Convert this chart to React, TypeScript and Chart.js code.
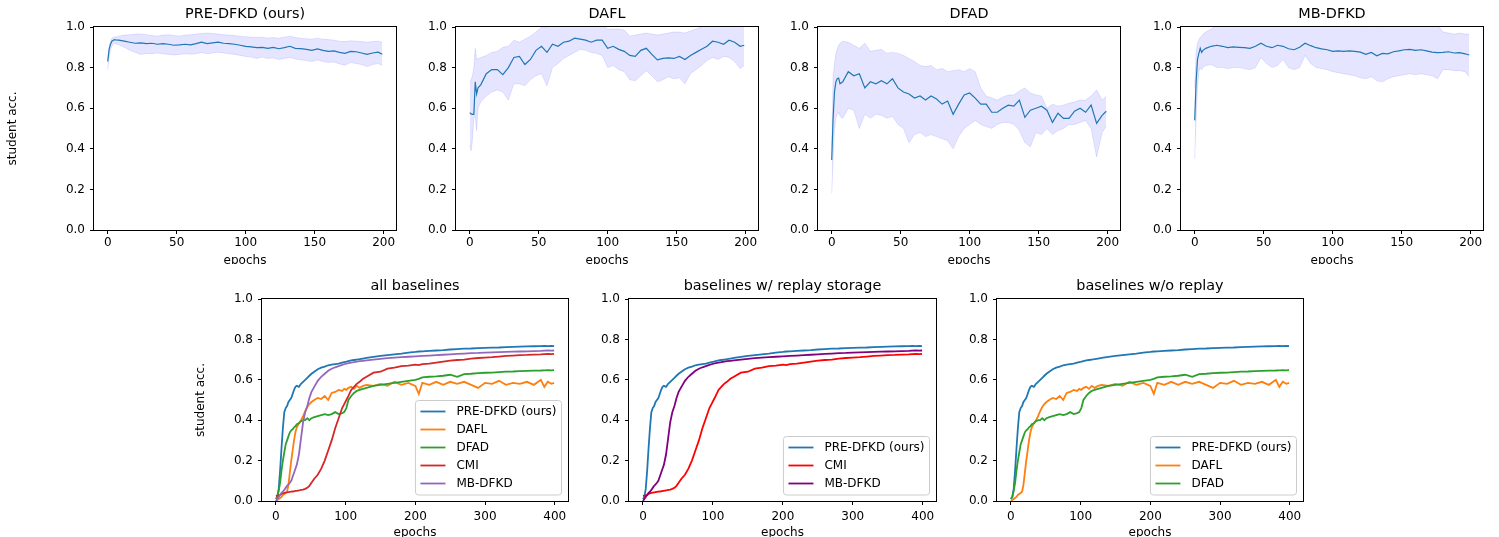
import React, { useEffect, useRef } from "react";
import { Chart, registerables } from "chart.js";

Chart.register(...registerables);

const FONT = "'DejaVu Sans', 'Liberation Sans', sans-serif";
Chart.defaults.font.family = FONT;
Chart.defaults.color = "#000";

// ---------- top row: per-method runs (mean and band) ----------
const TOP_EPOCHS = [0, 1, 2, 3, 4, 5, 6, 8, 12, 16, 20, 24, 28, 32, 36, 40, 44, 48, 52, 56, 60, 64, 68, 72, 76, 80, 84, 88, 92, 96, 100, 104, 108, 112, 116, 120, 124, 128, 132, 136, 140, 144, 148, 152, 156, 160, 164, 168, 172, 176, 180, 184, 188, 192, 196, 199];

const PRE_MEAN = [0.83, 0.89, 0.915, 0.93, 0.935, 0.938, 0.936, 0.935, 0.93, 0.925, 0.92, 0.922, 0.918, 0.92, 0.915, 0.918, 0.915, 0.91, 0.912, 0.915, 0.912, 0.918, 0.925, 0.918, 0.922, 0.925, 0.92, 0.918, 0.915, 0.91, 0.905, 0.902, 0.898, 0.9, 0.895, 0.9, 0.893, 0.898, 0.905, 0.895, 0.893, 0.89, 0.885, 0.892, 0.885, 0.88, 0.882, 0.875, 0.87, 0.88, 0.878, 0.872, 0.865, 0.872, 0.876, 0.866];
const PRE_UPPER = [0.84, 0.9, 0.93, 0.945, 0.95, 0.95, 0.952, 0.955, 0.96, 0.962, 0.965, 0.966, 0.962, 0.958, 0.955, 0.96, 0.962, 0.958, 0.955, 0.96, 0.962, 0.965, 0.968, 0.97, 0.968, 0.965, 0.962, 0.96, 0.958, 0.955, 0.952, 0.95, 0.948, 0.95, 0.945, 0.948, 0.945, 0.95, 0.955, 0.948, 0.945, 0.942, 0.94, 0.945, 0.94, 0.938, 0.935, 0.93, 0.928, 0.932, 0.93, 0.928, 0.925, 0.928, 0.93, 0.925];
const PRE_LOWER = [0.79, 0.85, 0.885, 0.905, 0.915, 0.92, 0.918, 0.912, 0.9, 0.885, 0.875, 0.865, 0.87, 0.868, 0.872, 0.868, 0.865, 0.862, 0.865, 0.868, 0.866, 0.868, 0.875, 0.868, 0.872, 0.876, 0.872, 0.868, 0.865, 0.86, 0.855, 0.852, 0.845, 0.852, 0.845, 0.848, 0.84, 0.845, 0.85, 0.842, 0.838, 0.835, 0.83, 0.838, 0.83, 0.825, 0.828, 0.818, 0.812, 0.825, 0.82, 0.815, 0.805, 0.815, 0.82, 0.81];

const DAFL_MEAN = [0.578, 0.572, 0.57, 0.57, 0.73, 0.67, 0.7, 0.715, 0.77, 0.79, 0.79, 0.765, 0.8, 0.85, 0.855, 0.815, 0.84, 0.885, 0.905, 0.875, 0.915, 0.905, 0.925, 0.93, 0.945, 0.94, 0.935, 0.925, 0.935, 0.935, 0.895, 0.905, 0.89, 0.88, 0.86, 0.855, 0.885, 0.895, 0.865, 0.838, 0.845, 0.848, 0.845, 0.855, 0.84, 0.86, 0.875, 0.89, 0.905, 0.93, 0.925, 0.915, 0.935, 0.925, 0.905, 0.91];
const DAFL_UPPER = [0.73, 0.74, 0.76, 0.8, 0.895, 0.84, 0.845, 0.85, 0.86, 0.875, 0.88, 0.9, 0.905, 0.935, 0.925, 0.94, 0.955, 0.975, 1.0, 1.0, 1.01, 1.02, 1.03, 1.04, 1.04, 1.03, 1.03, 1.02, 1.02, 1.01, 0.99, 0.99, 0.99, 0.985, 0.955, 0.96, 0.965, 0.97, 0.965, 0.96, 0.965, 0.97, 0.975, 0.975, 0.97, 0.98, 0.99, 1.0, 1.01, 1.03, 1.03, 1.02, 1.03, 1.02, 1.01, 1.01];
const DAFL_LOWER = [0.42, 0.39, 0.45, 0.55, 0.56, 0.49, 0.6, 0.63, 0.66, 0.68, 0.69, 0.68, 0.64, 0.72, 0.72, 0.71, 0.74, 0.76, 0.77, 0.71, 0.8, 0.82, 0.845, 0.86, 0.875, 0.89, 0.885, 0.875, 0.87, 0.86, 0.8, 0.81, 0.79, 0.78, 0.74, 0.735, 0.76, 0.785, 0.76, 0.73, 0.74, 0.755, 0.745, 0.75, 0.72, 0.77, 0.79, 0.81, 0.835, 0.85, 0.84, 0.855, 0.85, 0.83, 0.795, 0.81];

const DFAD_MEAN = [0.345, 0.55, 0.68, 0.73, 0.745, 0.748, 0.72, 0.73, 0.78, 0.76, 0.77, 0.7, 0.73, 0.72, 0.735, 0.72, 0.745, 0.7, 0.68, 0.67, 0.65, 0.66, 0.64, 0.66, 0.645, 0.62, 0.635, 0.57, 0.62, 0.665, 0.675, 0.65, 0.62, 0.62, 0.58, 0.58, 0.6, 0.615, 0.61, 0.64, 0.555, 0.59, 0.6, 0.61, 0.59, 0.53, 0.575, 0.55, 0.55, 0.585, 0.6, 0.58, 0.615, 0.525, 0.565, 0.585];
const DFAD_UPPER = [0.4, 0.75, 0.82, 0.87, 0.89, 0.91, 0.92, 0.93, 0.925, 0.91, 0.895, 0.92, 0.88, 0.885, 0.89, 0.87, 0.875, 0.87, 0.86, 0.845, 0.83, 0.81, 0.805, 0.81, 0.79, 0.795, 0.78, 0.785, 0.79, 0.78, 0.795, 0.78, 0.7, 0.66, 0.65, 0.64, 0.655, 0.665, 0.665, 0.685, 0.7, 0.675, 0.665, 0.66, 0.6, 0.62, 0.61, 0.615, 0.625, 0.63, 0.64, 0.64, 0.66, 0.69, 0.64, 0.66];
const DFAD_LOWER = [0.18, 0.35, 0.5, 0.55, 0.57, 0.58, 0.56, 0.55, 0.6, 0.59, 0.5, 0.57, 0.55, 0.57, 0.565, 0.55, 0.56, 0.52, 0.5, 0.43, 0.47, 0.48, 0.46, 0.47, 0.46, 0.45, 0.44, 0.4, 0.46, 0.5, 0.52, 0.54, 0.52, 0.51, 0.5, 0.52, 0.53, 0.53, 0.52, 0.49, 0.43, 0.41, 0.48, 0.47, 0.5, 0.47, 0.49, 0.5, 0.52, 0.52, 0.53, 0.54, 0.5, 0.36, 0.48, 0.51];

const MB_MEAN = [0.54, 0.73, 0.84, 0.87, 0.895, 0.875, 0.885, 0.895, 0.905, 0.91, 0.905, 0.898, 0.902, 0.9, 0.898, 0.895, 0.905, 0.92, 0.905, 0.898, 0.91, 0.905, 0.893, 0.888, 0.9, 0.92, 0.908, 0.898, 0.892, 0.888, 0.88, 0.882, 0.88, 0.882, 0.88, 0.876, 0.865, 0.875, 0.858, 0.87, 0.868, 0.878, 0.882, 0.888, 0.89, 0.885, 0.888, 0.882, 0.876, 0.874, 0.875, 0.878, 0.872, 0.874, 0.868, 0.862];
const MB_UPPER = [0.7, 0.87, 0.92, 0.935, 0.95, 0.955, 0.965, 0.975, 0.99, 1.01, 1.02, 1.02, 1.03, 1.03, 1.02, 1.02, 1.03, 1.04, 1.03, 1.02, 1.03, 1.03, 1.02, 1.02, 1.02, 1.04, 1.03, 1.02, 1.02, 1.01, 1.01, 1.01, 1.01, 1.01, 1.01, 1.01, 1.0, 1.01, 1.0, 1.01, 1.01, 1.02, 1.02, 1.03, 1.03, 1.03, 1.03, 1.02, 1.02, 1.01, 0.975, 0.97, 0.965, 0.97, 0.965, 0.965];
const MB_LOWER = [0.35, 0.55, 0.7, 0.78, 0.8, 0.79, 0.8, 0.81, 0.815, 0.8, 0.8, 0.795, 0.8, 0.8, 0.795, 0.79, 0.8, 0.85, 0.82, 0.8, 0.81, 0.84, 0.8, 0.79, 0.8, 0.86, 0.82, 0.8, 0.795, 0.79, 0.78, 0.775, 0.77, 0.765, 0.76, 0.75, 0.745, 0.755, 0.735, 0.73, 0.745, 0.755, 0.76, 0.765, 0.77, 0.765, 0.77, 0.765, 0.76, 0.745, 0.79, 0.79, 0.785, 0.785, 0.78, 0.755];

// ---------- bottom row: comparison curves ----------
const BOTTOM_EPOCHS = [0, 2, 4, 6, 8, 10, 12, 14, 16, 18, 20, 22, 24, 26, 28, 30, 33, 36, 39, 42, 45, 48, 51, 55, 60, 65, 70, 75, 80, 85, 90, 95, 98, 101, 104, 108, 112, 116, 120, 125, 130, 140, 150, 160, 170, 180, 190, 200, 205, 210, 220, 230, 240, 250, 260, 270, 280, 290, 300, 310, 320, 330, 340, 350, 360, 370, 380, 385, 390, 395, 399];

const B_PRE = [0.01, 0.02, 0.06, 0.15, 0.26, 0.36, 0.44, 0.46, 0.47, 0.49, 0.5, 0.51, 0.53, 0.55, 0.565, 0.57, 0.565, 0.58, 0.59, 0.6, 0.61, 0.62, 0.63, 0.64, 0.652, 0.66, 0.665, 0.672, 0.675, 0.678, 0.68, 0.685, 0.688, 0.69, 0.693, 0.696, 0.698, 0.7, 0.702, 0.705, 0.708, 0.713, 0.718, 0.722, 0.726, 0.73, 0.735, 0.738, 0.74, 0.741, 0.743, 0.745, 0.747, 0.75, 0.752, 0.754, 0.755, 0.757, 0.758, 0.759, 0.76, 0.762, 0.763, 0.764, 0.765, 0.766, 0.767, 0.768, 0.767, 0.768, 0.767];
const B_DAFL = [0, 0.005, 0.01, 0.015, 0.02, 0.03, 0.035, 0.04, 0.046, 0.08, 0.14, 0.2, 0.25, 0.3, 0.34, 0.365, 0.385, 0.4, 0.42, 0.445, 0.465, 0.48, 0.49, 0.5, 0.51, 0.505, 0.52, 0.5, 0.535, 0.54, 0.55, 0.545, 0.555, 0.55, 0.56, 0.565, 0.555, 0.57, 0.56, 0.57, 0.575, 0.57, 0.58, 0.57, 0.59, 0.575, 0.585, 0.57, 0.53, 0.585, 0.575, 0.59, 0.575, 0.59, 0.58, 0.59, 0.575, 0.56, 0.585, 0.58, 0.595, 0.575, 0.585, 0.58, 0.59, 0.575, 0.6, 0.565, 0.59, 0.58, 0.585];
const B_DFAD = [0.01, 0.02, 0.05, 0.09, 0.15, 0.2, 0.24, 0.28, 0.3, 0.32, 0.34, 0.35, 0.355, 0.365, 0.37, 0.38, 0.385, 0.395, 0.4, 0.4, 0.41, 0.4, 0.41, 0.415, 0.42, 0.425, 0.43, 0.425, 0.43, 0.44, 0.43, 0.435, 0.44, 0.46, 0.5, 0.52, 0.535, 0.545, 0.55, 0.555, 0.56, 0.57, 0.575, 0.58, 0.585, 0.59, 0.595, 0.6, 0.605, 0.612, 0.615, 0.617, 0.62, 0.625, 0.615, 0.628, 0.63, 0.633, 0.635, 0.636, 0.638, 0.64, 0.641, 0.643, 0.644, 0.645, 0.646, 0.647, 0.648, 0.647, 0.648];
const B_CMI = [0.025, 0.026, 0.028, 0.03, 0.035, 0.038, 0.04, 0.042, 0.043, 0.044, 0.045, 0.046, 0.047, 0.048, 0.05, 0.05, 0.052, 0.055, 0.056, 0.06, 0.065, 0.075, 0.09, 0.11, 0.13, 0.16, 0.2, 0.25, 0.3, 0.36, 0.41, 0.46, 0.48, 0.5, 0.52, 0.55, 0.565, 0.58, 0.59, 0.605, 0.615, 0.635, 0.64, 0.655, 0.66, 0.668, 0.67, 0.675, 0.673, 0.678, 0.68, 0.685, 0.69, 0.695, 0.698, 0.7, 0.705, 0.708, 0.71, 0.712, 0.715, 0.718, 0.72, 0.722, 0.723, 0.725, 0.726, 0.727, 0.728, 0.727, 0.728];
const B_MB = [0, 0.01, 0.02, 0.03, 0.04, 0.046, 0.055, 0.065, 0.075, 0.082, 0.09, 0.1, 0.12, 0.14, 0.16, 0.18, 0.23, 0.31, 0.39, 0.44, 0.47, 0.51, 0.54, 0.565, 0.595, 0.615, 0.63, 0.645, 0.655, 0.662, 0.668, 0.674, 0.677, 0.68, 0.682, 0.685, 0.687, 0.69, 0.692, 0.694, 0.696, 0.7, 0.704, 0.707, 0.71, 0.712, 0.714, 0.716, 0.717, 0.718, 0.72, 0.722, 0.724, 0.726, 0.728, 0.73, 0.732, 0.733, 0.735, 0.736, 0.737, 0.738, 0.739, 0.74, 0.741, 0.742, 0.743, 0.744, 0.745, 0.744, 0.745];

const TOP_X_TICKS = [0, 50, 100, 150, 200];
const BOTTOM_X_TICKS = [0, 100, 200, 300, 400];
const Y_TICKS = [0, 0.2, 0.4, 0.6, 0.8, 1.0];

const C_BLUE = "#1f77b4";
const C_ORANGE = "#ff7f0e";
const C_GREEN = "#2ca02c";
const C_RED = "#d62728";
const C_PURPLE = "#9467bd";
const C_PURE_RED = "#ff0000";
const C_DARK_PURPLE = "#800080";
const BAND = "rgba(0,0,255,0.1)";

type LegendItem = { label: string; color: string };
type Spec = {
  key: string;
  left: number; top: number; width: number; height: number; clipHeight: number;
  plotLeft: number; plotTop: number; plotRight: number; plotBottom: number;
  title: string; titleCenter: number; xTitleCenter: number; xTickPad: number;
  yTitle?: string; yTitleCenter?: number;
  xMin: number; xMax: number; xTicks: number[];
  datasets: any[]; legend?: LegendItem[];
};

const pts = (xs: number[], ys: number[]) => xs.map((x, i) => ({ x, y: ys[i] }));

function bandDatasets(mean: number[], upper: number[], lower: number[]) {
  return [
    { data: pts(TOP_EPOCHS, mean), borderColor: C_BLUE, borderWidth: 1.2, pointRadius: 0, fill: false, order: 0 },
    { data: pts(TOP_EPOCHS, upper), borderColor: BAND, backgroundColor: BAND, borderWidth: 1, pointRadius: 0, fill: "+1", order: 1 },
    { data: pts(TOP_EPOCHS, lower), borderColor: BAND, borderWidth: 1, pointRadius: 0, fill: false, order: 2 },
  ];
}

function lineDatasets(series: { ys: number[]; color: string }[]) {
  return series.map((s, i) => ({
    data: pts(BOTTOM_EPOCHS, s.ys), borderColor: s.color, borderWidth: 1.8, pointRadius: 0, fill: false, order: -i,
  }));
}

function topSpec(key: string, plotLeft: number, plotRight: number, title: string, ds: any[], yTitle?: string): Spec {
  const left = yTitle ? 0 : plotLeft - 50;
  return {
    key, left, top: 0, width: plotRight + 14 - left, height: 275, clipHeight: 264,
    plotLeft, plotTop: 27, plotRight, plotBottom: 230,
    title, titleCenter: 14, xTitleCenter: 261, xTickPad: 1.5,
    yTitle, yTitleCenter: 13.3,
    xMin: -9.95, xMax: 208.95, xTicks: TOP_X_TICKS, datasets: ds,
  };
}

function bottomSpec(key: string, plotLeft: number, plotRight: number, title: string, ds: any[], legend: LegendItem[], yTitle?: string): Spec {
  const left = yTitle ? 180 : plotLeft - 50;
  return {
    key, left, top: 270, width: plotRight + 14 - left, height: 280, clipHeight: 267,
    plotLeft, plotTop: 299, plotRight, plotBottom: 501,
    title, titleCenter: 286.5, xTitleCenter: 533, xTickPad: 4.5,
    yTitle, yTitleCenter: 201.3,
    xMin: -19.95, xMax: 418.95, xTicks: BOTTOM_X_TICKS, datasets: ds, legend,
  };
}

const SPECS: Spec[] = [
  topSpec("t1", 94, 396, "PRE-DFKD (ours)", bandDatasets(PRE_MEAN, PRE_UPPER, PRE_LOWER), "student acc."),
  topSpec("t2", 456, 758, "DAFL", bandDatasets(DAFL_MEAN, DAFL_UPPER, DAFL_LOWER)),
  topSpec("t3", 818, 1120, "DFAD", bandDatasets(DFAD_MEAN, DFAD_UPPER, DFAD_LOWER)),
  topSpec("t4", 1181, 1483, "MB-DFKD", bandDatasets(MB_MEAN, MB_UPPER, MB_LOWER)),
  bottomSpec("b1", 262, 568, "all baselines",
    lineDatasets([
      { ys: B_PRE, color: C_BLUE }, { ys: B_DAFL, color: C_ORANGE }, { ys: B_DFAD, color: C_GREEN },
      { ys: B_CMI, color: C_RED }, { ys: B_MB, color: C_PURPLE },
    ]),
    [
      { label: "PRE-DFKD (ours)", color: C_BLUE }, { label: "DAFL", color: C_ORANGE }, { label: "DFAD", color: C_GREEN },
      { label: "CMI", color: C_RED }, { label: "MB-DFKD", color: C_PURPLE },
    ],
    "student acc."),
  bottomSpec("b2", 629, 936, "baselines w/ replay storage",
    lineDatasets([{ ys: B_PRE, color: C_BLUE }, { ys: B_CMI, color: C_PURE_RED }, { ys: B_MB, color: C_DARK_PURPLE }]),
    [{ label: "PRE-DFKD (ours)", color: C_BLUE }, { label: "CMI", color: C_PURE_RED }, { label: "MB-DFKD", color: C_DARK_PURPLE }]),
  bottomSpec("b3", 997, 1303, "baselines w/o replay",
    lineDatasets([{ ys: B_PRE, color: C_BLUE }, { ys: B_DAFL, color: C_ORANGE }, { ys: B_DFAD, color: C_GREEN }]),
    [{ label: "PRE-DFKD (ours)", color: C_BLUE }, { label: "DAFL", color: C_ORANGE }, { label: "DFAD", color: C_GREEN }]),
];

function makeOverlayPlugin(legend?: LegendItem[]) {
  return {
    id: "mplOverlay",
    afterDraw(chart: any) {
      const { ctx, chartArea: a } = chart;
      ctx.save();
      ctx.strokeStyle = "#000";
      ctx.lineWidth = 1;
      const l = Math.round(a.left) - 0.5;
      const t = Math.round(a.top) - 0.5;
      const r = Math.round(a.right) + 0.5;
      const b = Math.round(a.bottom) + 0.5;
      ctx.strokeRect(l, t, r - l, b - t);
      if (legend && legend.length) {
        ctx.font = `12px ${FONT}`;
        const textW = Math.max(...legend.map((it) => ctx.measureText(it.label).width));
        const w = 41 + textW + 5;
        const h = 22 + (legend.length - 1) * 18 + 0.5;
        const x = a.right - 6.5 - w;
        const y = a.bottom - 6 - h;
        const rad = 3;
        ctx.beginPath();
        ctx.moveTo(x + rad, y);
        ctx.lineTo(x + w - rad, y);
        ctx.arcTo(x + w, y, x + w, y + rad, rad);
        ctx.lineTo(x + w, y + h - rad);
        ctx.arcTo(x + w, y + h, x + w - rad, y + h, rad);
        ctx.lineTo(x + rad, y + h);
        ctx.arcTo(x, y + h, x, y + h - rad, rad);
        ctx.lineTo(x, y + rad);
        ctx.arcTo(x, y, x + rad, y, rad);
        ctx.closePath();
        ctx.fillStyle = "rgba(255,255,255,0.8)";
        ctx.fill();
        ctx.strokeStyle = "#cccccc";
        ctx.lineWidth = 1;
        ctx.stroke();
        legend.forEach((it, i) => {
          const cy = y + 11 + i * 18;
          ctx.beginPath();
          ctx.strokeStyle = it.color;
          ctx.lineWidth = 1.8;
          ctx.moveTo(x + 5, cy);
          ctx.lineTo(x + 30, cy);
          ctx.stroke();
          ctx.fillStyle = "#000";
          ctx.textAlign = "left";
          ctx.textBaseline = "middle";
          ctx.fillText(it.label, x + 41, cy);
        });
      }
      ctx.restore();
    },
  };
}

function buildConfig(s: Spec): any {
  const yW = s.plotLeft - s.left;
  const xH = s.top + s.height - s.plotBottom;
  const padRight = s.left + s.width - s.plotRight;
  const titlePadTop = s.titleCenter - s.top - 8.64;
  const titlePadBottom = s.plotTop - s.top - 17.28 - titlePadTop;
  const xTitlePadBottom = s.top + s.height - s.xTitleCenter - 7.2;
  const tickFont = { family: FONT, size: 12 };
  const grid = { display: true, drawOnChartArea: false, drawTicks: true, tickLength: 4, color: "#000", lineWidth: 1 };
  return {
    type: "line",
    data: { datasets: s.datasets },
    options: {
      animation: false,
      responsive: false,
      events: [],
      layout: { padding: { left: 0, top: 0, bottom: 0, right: padRight } },
      plugins: {
        legend: { display: false },
        tooltip: { enabled: false },
        title: {
          display: true, text: s.title, fullSize: false, color: "#000",
          font: { family: FONT, size: 14.4, weight: "normal", lineHeight: 1.2 },
          padding: { top: titlePadTop, bottom: titlePadBottom },
        },
      },
      scales: {
        x: {
          type: "linear", min: s.xMin, max: s.xMax,
          afterBuildTicks: (sc: any) => { sc.ticks = s.xTicks.map((v) => ({ value: v })); },
          afterFit: (sc: any) => { sc.height = xH; },
          ticks: { color: "#000", font: tickFont, padding: s.xTickPad, maxRotation: 0, minRotation: 0, autoSkip: false, callback: (v: any) => String(v) },
          grid,
          border: { display: false },
          title: { display: true, text: "epochs", color: "#000", font: tickFont, padding: { top: 0, bottom: xTitlePadBottom } },
        },
        y: {
          type: "linear", min: 0, max: 1,
          afterBuildTicks: (sc: any) => { sc.ticks = Y_TICKS.map((v) => ({ value: v })); },
          afterFit: (sc: any) => { sc.width = yW; },
          ticks: { color: "#000", font: tickFont, padding: 5, autoSkip: false, callback: (v: any) => Number(v).toFixed(1) },
          grid,
          border: { display: false },
          title: s.yTitle
            ? { display: true, text: s.yTitle, color: "#000", font: tickFont, padding: { top: (s.yTitleCenter as number) - s.left - 7.2, bottom: 0 } }
            : { display: false },
        },
      },
    },
    plugins: [makeOverlayPlugin(s.legend)],
  };
}

function Plot({ spec }: { spec: Spec }) {
  const ref = useRef<HTMLCanvasElement | null>(null);
  useEffect(() => {
    const canvas = ref.current;
    if (!canvas) return;
    const chart = new Chart(canvas, buildConfig(spec));
    return () => chart.destroy();
  }, [spec]);
  return (
    <div style={{ position: "absolute", left: spec.left, top: spec.top, width: spec.width, height: spec.clipHeight, overflow: "hidden" }}>
      <canvas ref={ref} width={spec.width} height={spec.height} style={{ display: "block", width: spec.width, height: spec.height }} />
    </div>
  );
}

export default function App() {
  return (
    <div style={{ position: "fixed", left: 0, top: 0, width: 1499, height: 537, background: "#fff", overflow: "hidden" }}>
      {SPECS.map((s) => <Plot key={s.key} spec={s} />)}
    </div>
  );
}
